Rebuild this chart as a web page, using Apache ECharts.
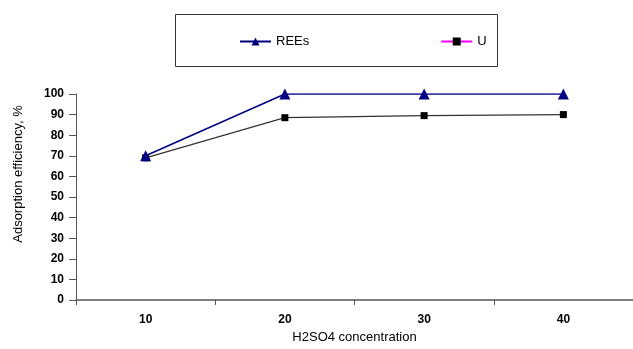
<!DOCTYPE html>
<html><head><meta charset="utf-8">
<script src="https://cdn.jsdelivr.net/npm/echarts@6/dist/echarts.min.js"></script>
<style>html,body{margin:0;padding:0;background:#fff}#c{width:633px;height:349px}</style>
</head><body><div id="c"></div>
<script>
const categories = ['10', '20', '30', '40'];
const reesValues = [70, 100, 100, 100];
const uValues = [69, 88.5, 89.5, 90];
const yTicks = [0, 100, 10];

const chart = echarts.init(document.getElementById('c'));
const font = '"Liberation Sans", Arial, sans-serif';
chart.setOption({
  animation: false,
  backgroundColor: '#fff',
  textStyle: { fontFamily: font },
  graphic: [
    {
      type: 'rect', shape: { x: 175.5, y: 14.5, width: 322, height: 52 },
      style: { fill: '#fff', stroke: '#333', lineWidth: 1 }, z: 0
    },
    {
      type: 'text', x: 18, y: 174, rotation: Math.PI / 2,
      style: { text: 'Adsorption efficiency, %', fontFamily: font, fontSize: 13, fill: '#000',
               align: 'center', verticalAlign: 'middle' }
    }
  ],
  legend: {
    left: 239, top: 35, padding: 0, itemWidth: 31, itemHeight: 10, itemGap: 131,
    textStyle: { fontFamily: font, fontSize: 13, color: '#000' },
    data: [
      { name: 'REEs' },
      { name: 'U', itemStyle: { color: '#000' }, lineStyle: { color: '#ff00ff', width: 2 } }
    ]
  },
  grid: { left: 76, right: -5, top: 94, bottom: 44, containLabel: false },
  xAxis: {
    type: 'category', data: categories, boundaryGap: true,
    name: 'H2SO4 concentration', nameLocation: 'middle', nameGap: 31,
    nameTextStyle: { fontFamily: font, fontSize: 13, color: '#000' },
    axisLine: { lineStyle: { color: '#555', width: 1.5 } },
    axisTick: { show: true, length: 5, lineStyle: { color: '#555' } },
    axisLabel: { fontFamily: font, fontSize: 12, fontWeight: 'bold', color: '#000', margin: 14 }
  },
  yAxis: {
    type: 'value', min: yTicks[0], max: yTicks[1], interval: yTicks[2],
    axisLine: { show: true, lineStyle: { color: '#555', width: 1 } },
    axisTick: { show: true, length: 7, lineStyle: { color: '#555' } },
    splitLine: { show: false },
    axisLabel: { fontFamily: font, fontSize: 12, fontWeight: 'bold', color: '#000', margin: 12 }
  },
  series: [
    {
      name: 'U', type: 'line', data: uValues, symbol: 'rect', symbolSize: 7,
      itemStyle: { color: '#000' }, lineStyle: { color: '#333', width: 1.2 }, z: 2
    },
    {
      name: 'REEs', type: 'line', data: reesValues, symbol: 'triangle', symbolSize: 11,
      itemStyle: { color: '#000080' }, lineStyle: { color: '#000080', width: 1.5 }, z: 3
    }
  ]
});
</script></body></html>
